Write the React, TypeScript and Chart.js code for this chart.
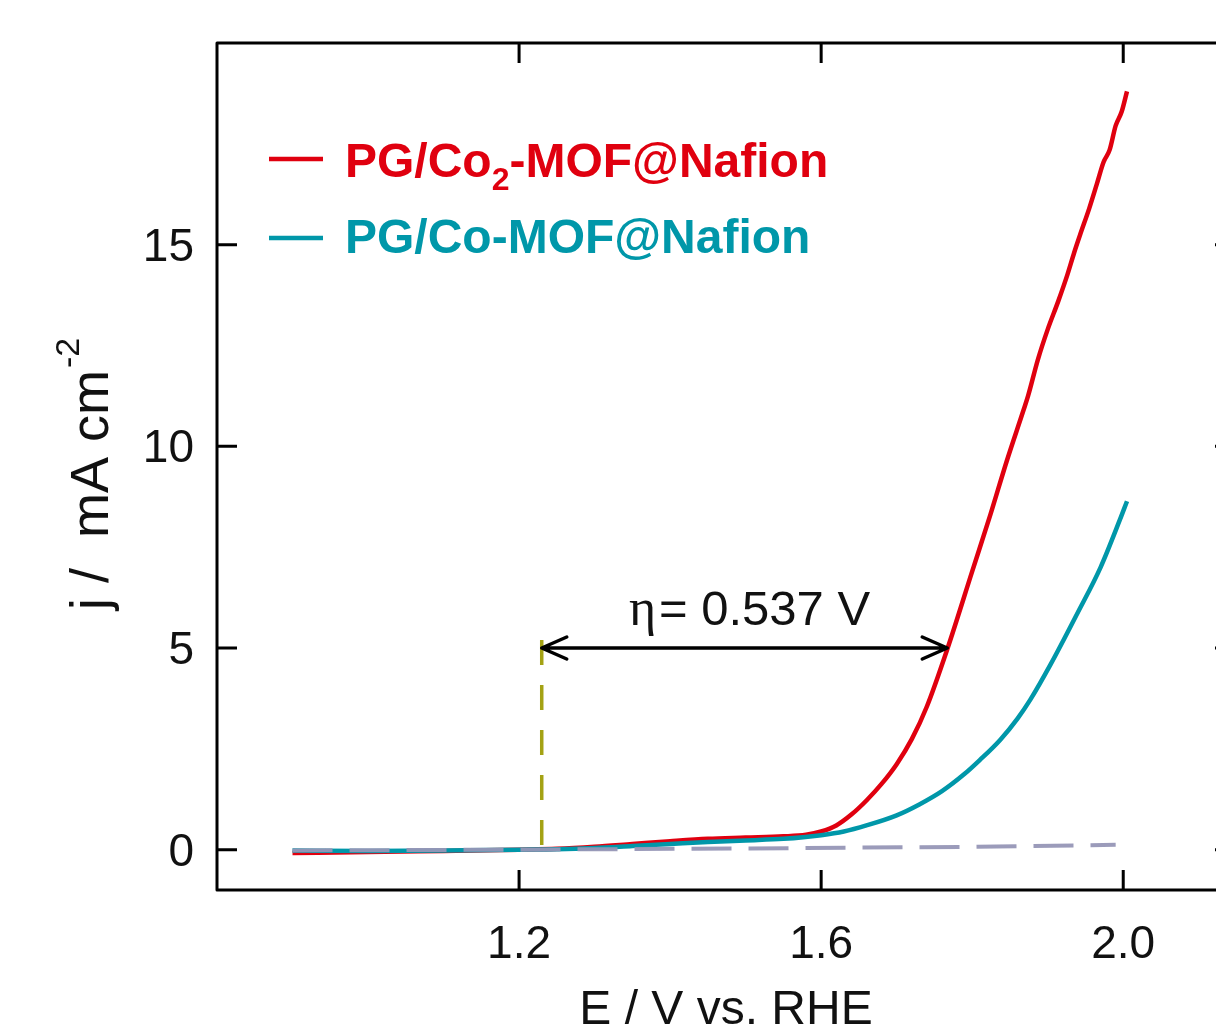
import React, { useEffect, useRef } from "react";
import { Chart, registerables } from "chart.js";

Chart.register(...registerables);

// ---- data ----
const RED_E = [0.90, 1.00, 1.10, 1.20, 1.25, 1.30, 1.35, 1.40, 1.45, 1.50, 1.55, 1.58, 1.60, 1.62, 1.64, 1.66, 1.68, 1.70, 1.72, 1.74, 1.767, 1.80, 1.824, 1.846, 1.868, 1.874, 1.887, 1.90, 1.914, 1.926, 1.935, 1.943, 1.955, 1.965, 1.974, 1.982, 1.99, 1.998, 2.005];
const RED_J = [-0.08, -0.06, -0.03, 0.00, 0.02, 0.07, 0.14, 0.21, 0.27, 0.30, 0.33, 0.37, 0.45, 0.60, 0.87, 1.22, 1.63, 2.12, 2.74, 3.55, 4.97, 6.9, 8.3, 9.65, 10.9, 11.25, 12.15, 12.9, 13.6, 14.25, 14.8, 15.25, 15.9, 16.5, 17.05, 17.35, 17.95, 18.3, 18.8];

const TEAL_E = [0.90, 1.00, 1.10, 1.20, 1.25, 1.30, 1.35, 1.40, 1.45, 1.50, 1.55, 1.60, 1.63, 1.66, 1.70, 1.73, 1.76, 1.79, 1.81, 1.837, 1.86, 1.877, 1.904, 1.939, 1.97, 1.996, 2.005];
const TEAL_J = [-0.02, -0.03, -0.02, 0.00, 0.01, 0.04, 0.09, 0.14, 0.19, 0.23, 0.27, 0.36, 0.45, 0.6, 0.85, 1.12, 1.45, 1.88, 2.22, 2.72, 3.25, 3.72, 4.6, 5.85, 7.0, 8.2, 8.64];

const BASE_E = [0.90, 1.20, 1.50, 1.80, 1.99];
const BASE_J = [-0.02, 0.0, 0.03, 0.07, 0.12];

const ONSET_E = 1.23;
const ETA_END_E = 1.767;
const ARROW_J = 5;
const ONSET_TOP_J = 5.2;

const X_TICKS = [1.2, 1.6, 2.0];
const X_TICK_LABELS = ["1.2", "1.6", "2.0"];
const Y_TICKS = [0, 5, 10, 15];
const Y_TICK_LABELS = ["0", "5", "10", "15"];

const SERIES_NAMES = ["PG/Co", "2", "-MOF@Nafion"];
const SERIES2_NAME = "PG/Co-MOF@Nafion";
const ETA_LABEL = "= 0.537 V";

const RED = "#e0000f";
const TEAL = "#0097a9";
const SANS = "'Liberation Sans', Arial, sans-serif";
const SERIF = "'Liberation Serif', 'Times New Roman', serif";

const toPts = (xs: number[], ys: number[]) => xs.map((x, i) => ({ x, y: ys[i] }));

export default function App() {
  const ref = useRef<HTMLCanvasElement | null>(null);

  useEffect(() => {
    const canvas = ref.current!;
    const decor = {
      id: "decor",
      afterDatasetsDraw(chart: any) {
        const ctx = chart.ctx as CanvasRenderingContext2D;
        const { left, right, top, bottom } = chart.chartArea;
        const xs = chart.scales.x;
        const ys = chart.scales.y;
        ctx.save();
        // arrow
        const ay = ys.getPixelForValue(ARROW_J);
        const ax1 = xs.getPixelForValue(ONSET_E);
        const ax2 = xs.getPixelForValue(ETA_END_E);
        ctx.strokeStyle = "#000";
        ctx.lineWidth = 3.5;
        ctx.lineCap = "round";
        ctx.lineJoin = "round";
        ctx.beginPath();
        ctx.moveTo(ax1, ay);
        ctx.lineTo(ax2, ay);
        ctx.moveTo(ax1 + 25, ay - 11);
        ctx.lineTo(ax1, ay);
        ctx.lineTo(ax1 + 25, ay + 11);
        ctx.moveTo(ax2 - 25, ay - 11);
        ctx.lineTo(ax2, ay);
        ctx.lineTo(ax2 - 25, ay + 11);
        ctx.stroke();
        // eta text
        ctx.fillStyle = "#111";
        ctx.textBaseline = "alphabetic";
        ctx.textAlign = "left";
        ctx.font = `52px ${SERIF}`;
        ctx.fillText("η", 629, 625);
        ctx.font = `49px ${SANS}`;
        ctx.fillText(ETA_LABEL, 659, 625);

        // box
        ctx.lineCap = "butt";
        ctx.lineWidth = 3;
        ctx.strokeStyle = "#000";
        ctx.strokeRect(left, top, right - left, bottom - top);
        // ticks
        ctx.beginPath();
        X_TICKS.forEach((v) => {
          const px = xs.getPixelForValue(v);
          ctx.moveTo(px, bottom);
          ctx.lineTo(px, bottom - 20);
          ctx.moveTo(px, top);
          ctx.lineTo(px, top + 20);
        });
        Y_TICKS.forEach((v) => {
          const py = ys.getPixelForValue(v);
          ctx.moveTo(left, py);
          ctx.lineTo(left + 20, py);
          ctx.moveTo(right, py);
          ctx.lineTo(right - 20, py);
        });
        ctx.stroke();
        // tick labels
        ctx.fillStyle = "#111";
        ctx.font = `46px ${SANS}`;
        ctx.textAlign = "center";
        X_TICKS.forEach((v, i) => {
          ctx.fillText(X_TICK_LABELS[i], xs.getPixelForValue(v), 958);
        });
        ctx.textAlign = "right";
        Y_TICKS.forEach((v, i) => {
          ctx.fillText(Y_TICK_LABELS[i], 194, ys.getPixelForValue(v) + 16);
        });
        // x title
        ctx.textAlign = "center";
        ctx.font = `48px ${SANS}`;
        ctx.fillText("E / V vs. RHE", 726, 1024);
        // y title
        ctx.save();
        ctx.translate(108, 610);
        ctx.rotate(-Math.PI / 2);
        ctx.textAlign = "left";
        ctx.font = `54px ${SANS}`;
        const main = "j /  mA cm";
        ctx.fillText(main, 0, 0);
        const w = ctx.measureText(main).width;
        ctx.font = `34px ${SANS}`;
        ctx.fillText("-2", w + 2, -29);
        ctx.restore();

        // legend
        ctx.lineWidth = 4.5;
        ctx.strokeStyle = RED;
        ctx.beginPath();
        ctx.moveTo(269, 159);
        ctx.lineTo(323, 159);
        ctx.stroke();
        ctx.strokeStyle = TEAL;
        ctx.beginPath();
        ctx.moveTo(269, 238);
        ctx.lineTo(323, 238);
        ctx.stroke();
        ctx.textAlign = "left";
        ctx.fillStyle = RED;
        ctx.font = `bold 48px ${SANS}`;
        let x = 345;
        ctx.fillText(SERIES_NAMES[0], x, 177);
        x += ctx.measureText(SERIES_NAMES[0]).width;
        ctx.font = `bold 32px ${SANS}`;
        ctx.fillText(SERIES_NAMES[1], x, 190);
        x += ctx.measureText(SERIES_NAMES[1]).width;
        ctx.font = `bold 48px ${SANS}`;
        ctx.fillText(SERIES_NAMES[2], x, 177);
        ctx.fillStyle = TEAL;
        ctx.fillText(SERIES2_NAME, 345, 253);
        ctx.restore();
      },
    };

    const chart = new Chart(canvas, {
      type: "scatter",
      data: {
        datasets: [
          {
            data: toPts(BASE_E, BASE_J),
            showLine: true,
            borderColor: "rgba(150,150,182,0.95)",
            borderWidth: 4,
            borderDash: [40, 17],
            pointRadius: 0,
          },
          {
            data: toPts(TEAL_E, TEAL_J),
            showLine: true,
            borderColor: TEAL,
            borderWidth: 4.5,
            pointRadius: 0,
            cubicInterpolationMode: "monotone",
          },
          {
            data: toPts(RED_E, RED_J),
            showLine: true,
            borderColor: RED,
            borderWidth: 4.5,
            pointRadius: 0,
            cubicInterpolationMode: "monotone",
          },
          {
            data: [
              { x: ONSET_E, y: ONSET_TOP_J },
              { x: ONSET_E, y: 0 },
            ],
            showLine: true,
            borderColor: "#a4a214",
            borderWidth: 3.5,
            borderDash: [25, 20],
            pointRadius: 0,
          },
        ],
      } as any,
      options: {
        animation: false,
        responsive: false,
        devicePixelRatio: 1,
        layout: { padding: { left: 217, top: 43, right: 5, bottom: 138 } },
        plugins: { legend: { display: false }, tooltip: { enabled: false } },
        scales: {
          x: { type: "linear", min: 0.8, max: 2.148, display: false },
          y: { type: "linear", min: -1, max: 20, display: false },
        },
      } as any,
      plugins: [decor],
    });
    return () => chart.destroy();
  }, []);

  return (
    <div style={{ position: "fixed", left: 0, top: 0, width: 1216, height: 1028, overflow: "hidden", background: "#fff" }}>
      <canvas ref={ref} width={1240} height={1028} style={{ width: 1240, height: 1028, display: "block" }} />
    </div>
  );
}
